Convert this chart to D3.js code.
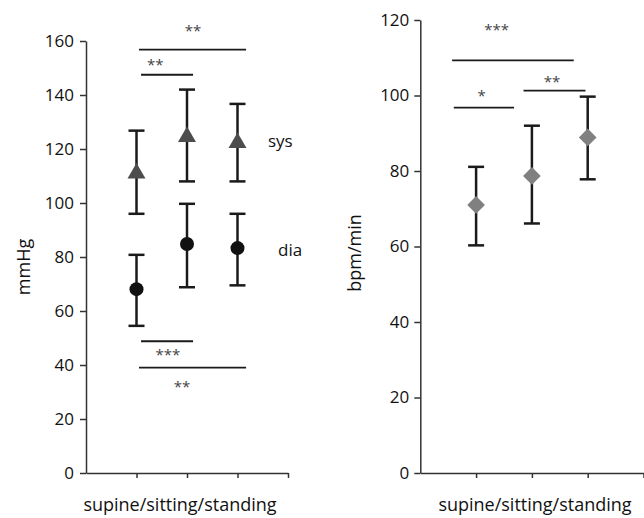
<!DOCTYPE html>
<html><head><meta charset="utf-8">
<script src="https://cdn.jsdelivr.net/npm/d3@7/dist/d3.min.js"></script>
<style>body{margin:0;background:#fff}svg{display:block}text{font-family:"Open Sans",sans-serif}</style>
</head><body>
<script>
// ---- data ----
const categories = ["supine","sitting","standing"];
const sysMean = [111, 124.5, 122.3];
const sysLow  = [96, 108, 108];
const sysHigh = [126.8, 142, 136.7];
const diaMean = [68.1, 84.8, 83.3];
const diaLow  = [54.5, 68.8, 69.5];
const diaHigh = [80.8, 99.7, 96];
const hrMean = [71, 78.7, 88.9];
const hrLow  = [60.3, 66.1, 77.8];
const hrHigh = [81.1, 92, 99.7];
const bpTicks = [0,20,40,60,80,100,120,140,160];
const hrTicks = [0,20,40,60,80,100,120];
// significance brackets: [x1, x2, yValue, label, labelX, labelOffsetPx]
const bpSig = [
  [1.05, 3.17, 156.8, "**", 2.12, -22],
  [1.09, 2.12, 147.5, "**", 1.37, -13],
  [1.09, 2.12, 48.8, "***", 1.62, 11],
  [1.05, 3.17, 39, "**", 1.9, 16]
];
const hrSig = [
  [0.57, 2.75, 109.3, "***", 1.37, -33],
  [0.60, 1.68, 96.8, "*", 1.10, -15],
  [1.85, 2.96, 101.3, "**", 2.36, -12]
];

const W = 644, H = 518;
const svg = d3.select("body").append("svg").attr("width", W).attr("height", H);

function panel(cfg){
  const x = d3.scaleLinear().domain([0,4]).range(cfg.xr);
  const y = d3.scaleLinear().domain(cfg.yd).range(cfg.yr);
  const g = svg.append("g");
  const ya = g.append("g").attr("transform",`translate(${cfg.xr[0]},0)`)
    .call(d3.axisLeft(y).tickValues(cfg.ticks).tickSize(6).tickPadding(cfg.tp).tickSizeOuter(0));
  const xa = g.append("g").attr("transform",`translate(0,${cfg.yr[0]})`)
    .call(d3.axisBottom(x).tickValues([1,2,3,4]).tickFormat("").tickSize(5).tickSizeOuter(0));
  [ya,xa].forEach(a=>{
    a.select(".domain").attr("stroke","#333").attr("stroke-width",1.5);
    a.selectAll(".tick line").attr("stroke","#333").attr("stroke-width",1.5);
    a.selectAll(".tick text").attr("font-size",17).attr("fill","#111").attr("font-family","'Open Sans',sans-serif");
  });
  g.append("text").attr("transform",`translate(${cfg.ylx},${cfg.yly}) rotate(-90)`)
    .attr("text-anchor","middle").attr("font-size",18).attr("fill","#111").text(cfg.ylabel);
  g.append("text").attr("x",cfg.xlx).attr("y",511).attr("text-anchor","middle")
    .attr("font-size",18).attr("fill","#111").text("supine/sitting/standing");
  return {x,y,g};
}

function errorbars(p, mean, lo, hi){
  const eb = p.g.append("g").attr("stroke","#1a1a1a").attr("stroke-width",2.5);
  categories.forEach((c,i)=>{
    const cx = p.x(i+1);
    eb.append("line").attr("x1",cx).attr("x2",cx).attr("y1",p.y(lo[i])).attr("y2",p.y(hi[i]));
    eb.append("line").attr("x1",cx-8).attr("x2",cx+8).attr("y1",p.y(lo[i])).attr("y2",p.y(lo[i]));
    eb.append("line").attr("x1",cx-8).attr("x2",cx+8).attr("y1",p.y(hi[i])).attr("y2",p.y(hi[i]));
  });
}

function sig(p, list){
  list.forEach(s=>{
    p.g.append("line").attr("x1",p.x(s[0])).attr("x2",p.x(s[1]))
      .attr("y1",p.y(s[2])).attr("y2",p.y(s[2])).attr("stroke","#1a1a1a").attr("stroke-width",1.8);
    p.g.append("text").attr("x",p.x(s[4])).attr("y",p.y(s[2])+s[5]+8)
      .attr("text-anchor","middle").attr("font-size",15).attr("fill","#444").text(s[3]);
  });
}

// left panel
const L = panel({xr:[86,288], yd:[0,160], yr:[473,41], ticks:bpTicks, tp:6,
  ylabel:"mmHg", ylx:30, yly:267, xlx:180});
errorbars(L, sysMean, sysLow, sysHigh);
errorbars(L, diaMean, diaLow, diaHigh);
L.g.selectAll(".sys").data(sysMean).join("path")
  .attr("d", d3.symbol(d3.symbolTriangle, 140)())
  .attr("transform",(d,i)=>`translate(${L.x(i+1)},${L.y(d)})`).attr("fill","#4d4d4d");
L.g.selectAll(".dia").data(diaMean).join("circle")
  .attr("cx",(d,i)=>L.x(i+1)).attr("cy",d=>L.y(d)).attr("r",7).attr("fill","#111");
L.g.append("text").attr("x",268).attr("y",147).attr("font-size",17).attr("fill","#111").text("sys");
L.g.append("text").attr("x",278).attr("y",256).attr("font-size",17).attr("fill","#111").text("dia");
sig(L, bpSig);

// right panel
const R = panel({xr:[420.3,643.5], yd:[0,120], yr:[473,20], ticks:hrTicks, tp:5,
  ylabel:"bpm/min", ylx:361, yly:253, xlx:535});
errorbars(R, hrMean, hrLow, hrHigh);
R.g.selectAll(".hr").data(hrMean).join("path")
  .attr("d", d3.symbol(d3.symbolDiamond2, 200)())
  .attr("transform",(d,i)=>`translate(${R.x(i+1)},${R.y(d)})`).attr("fill","#808080");
sig(R, hrSig);
</script>
</body></html>
